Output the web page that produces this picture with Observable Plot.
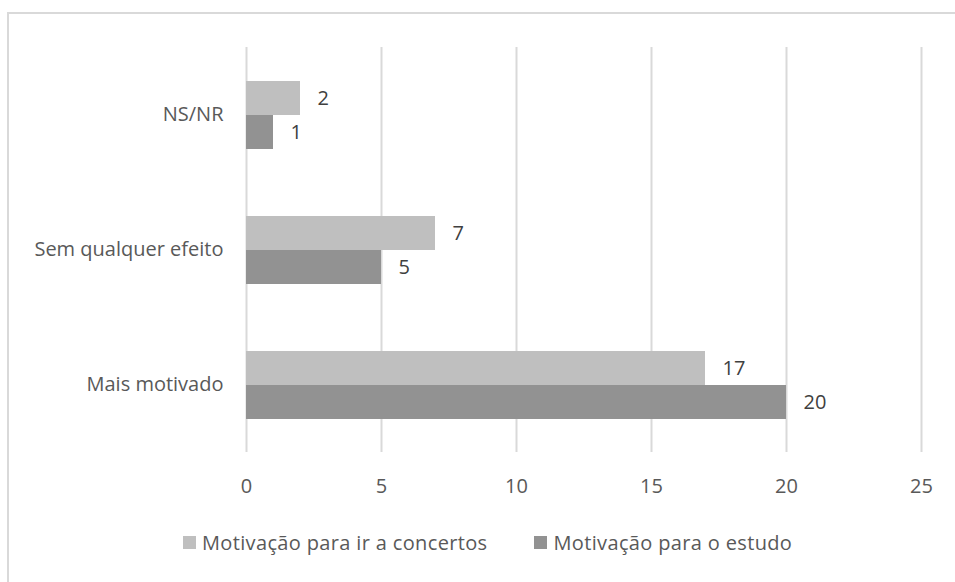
<!DOCTYPE html>
<html>
<head>
<meta charset="utf-8">
<script src="https://cdn.jsdelivr.net/npm/d3@7"></script>
<script src="https://cdn.jsdelivr.net/npm/@observablehq/plot@0.6"></script>
<style>
  html, body { margin: 0; padding: 0; background: #fff; overflow: hidden; }
  body { width: 955px; height: 582px; position: relative; font-family: "Open Sans", sans-serif; }
  #frame { position: absolute; left: 7px; top: 12px; width: 970px; height: 600px; border: 2px solid #D9D9D9; box-sizing: border-box; }
  #chart { position: absolute; left: 0; top: 0; }
  #legend { position: absolute; left: 183px; top: 529px; display: flex; align-items: center; font-size: 20px; letter-spacing: 0.35px; color: #595959; white-space: nowrap; }
  .item { display: flex; align-items: center; margin-right: 47px; }
  .sw { width: 13px; height: 13px; margin-right: 6px; display: inline-block; }
</style>
</head>
<body>
<div id="frame"></div>
<div id="chart"></div>
<div id="legend"></div>
<script>
const categories = ["NS/NR", "Sem qualquer efeito", "Mais motivado"];
const seriesNames = ["Motivação para ir a concertos", "Motivação para o estudo"];
const concertos = [2, 7, 17];
const estudo = [1, 5, 20];
const xTicks = [0, 5, 10, 15, 20, 25];
const colors = ["#BFBFBF", "#929292"];

const data = [];
categories.forEach((c, i) => {
  data.push({category: c, series: seriesNames[0], value: concertos[i]});
  data.push({category: c, series: seriesNames[1], value: estudo[i]});
});

const chart = Plot.plot({
  width: 955,
  height: 510,
  marginLeft: 246,
  marginRight: 34,
  marginTop: 47,
  marginBottom: 58,
  style: {fontFamily: "'Open Sans', sans-serif", fontSize: "20px", color: "#595959", background: "transparent", overflow: "visible"},
  x: {domain: [0, 25], ticks: xTicks, label: null},
  fy: {domain: categories, padding: 0, label: null},
  y: {domain: seriesNames, paddingInner: 0, paddingOuter: 0.93, axis: null},
  color: {domain: seriesNames, range: colors},
  marks: [
    Plot.ruleX(xTicks, {stroke: "#D9D9D9", strokeWidth: 2, strokeOpacity: 1}),
    Plot.barX(data, {fy: "category", y: "series", x: "value", fill: "series"}),
    Plot.text(data, {fy: "category", y: "series", x: "value", text: d => String(d.value), textAnchor: "start", dx: 17, fill: "#404040", fontSize: 20}),
    Plot.axisX({ticks: xTicks, tickSize: 0, tickPadding: 26, label: null, fill: "#595959", fontSize: 20}),
    Plot.axisFy({anchor: "left", tickSize: 0, tickPadding: 23, label: null, fill: "#595959", fontSize: 20})
  ]
});
document.getElementById("chart").appendChild(chart);

const legend = document.getElementById("legend");
seriesNames.forEach((s, i) => {
  const item = document.createElement("div");
  item.className = "item";
  const sw = document.createElement("span");
  sw.className = "sw";
  sw.style.background = colors[i];
  const t = document.createElement("span");
  t.textContent = s;
  item.appendChild(sw);
  item.appendChild(t);
  legend.appendChild(item);
});
</script>
</body>
</html>
